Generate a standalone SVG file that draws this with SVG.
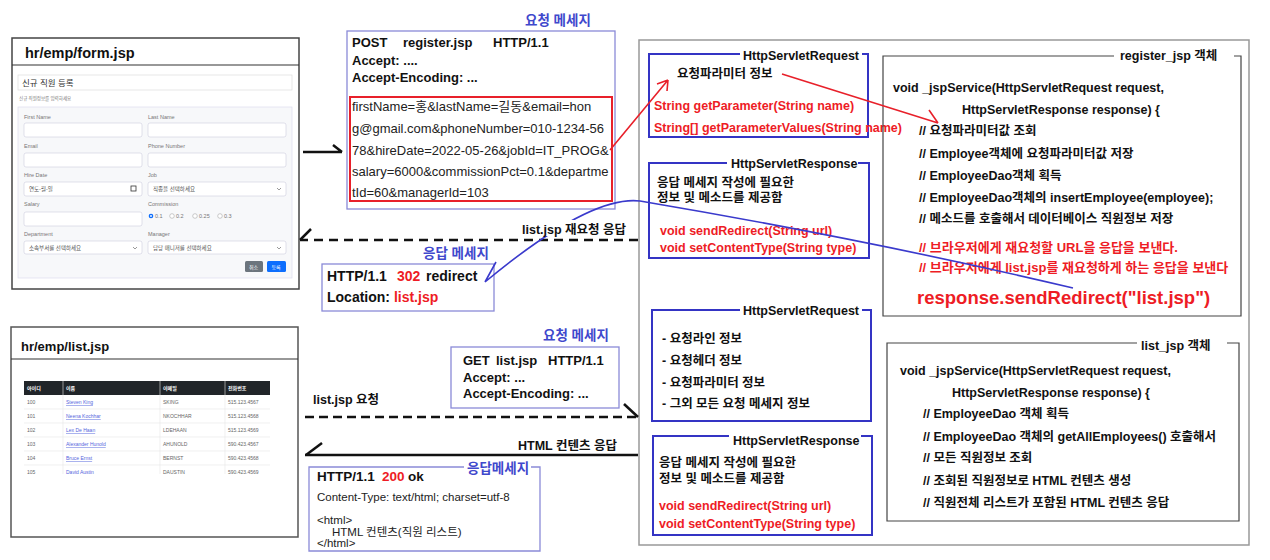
<svg xmlns="http://www.w3.org/2000/svg" width="1270" height="560" viewBox="0 0 1270 560">
<style>
text{font-family:"Liberation Sans","Noto Sans CJK KR",sans-serif;}
.b{font-weight:bold;font-size:12.5px;fill:#111;}
.r{fill:#ee1c25;}
.bt{font-weight:bold;font-size:13.5px;fill:#3f48cc;}
.reg{font-size:13px;fill:#222;}
.sm{font-size:11.5px;fill:#222;}
.msg{fill:#fff;stroke:#8a8ad8;stroke-width:1.3;}
.sbox{fill:none;stroke:#3434c4;stroke-width:2;}
.obj{fill:none;stroke:#444;stroke-width:1.2;}
.lab{font-size:5.5px;fill:#777;}
.inp{fill:#fff;stroke:#ccd;stroke-width:0.6;}
.tc{font-size:5px;fill:#666;}
.lk{font-size:5px;fill:#5566dd;text-decoration:underline;}
.blk{stroke:#111;fill:none;stroke-width:2.5;}
</style>
<rect width="1270" height="560" fill="#fff"/>

<!-- Server area -->
<g id="server">
<rect x="639" y="40" width="610" height="505" fill="none" stroke="#999" stroke-width="1.5"/>
</g>

<!-- Form screenshot -->
<g id="form-jsp">
<rect x="12" y="38" width="287" height="251" fill="#fff" stroke="#444" stroke-width="1.5"/>
<line x1="12" y1="65" x2="299" y2="65" stroke="#333" stroke-width="1.2"/>
<text x="25" y="58" style="font-weight:bold;font-size:14.5px;fill:#111">hr/emp/form.jsp</text>
<rect x="18" y="75" width="274" height="15" fill="#fff" stroke="#ddd" stroke-width="0.7"/>
<text x="22" y="86" style="font-size:8.5px;fill:#333">신규 직원 등록</text>
<text x="19" y="100" style="font-size:4.5px;fill:#777">신규 직원정보를 입력하세요</text>
<rect x="18" y="107" width="274" height="171" fill="#f7f8fa" stroke="#dde" stroke-width="0.7"/>
<text class="lab" x="24" y="119">First Name</text>
<text class="lab" x="148" y="119">Last Name</text>
<rect class="inp" x="24" y="123" width="118" height="14" rx="2"/>
<rect class="inp" x="148" y="123" width="138" height="14" rx="2"/>
<text class="lab" x="24" y="148">Email</text>
<text class="lab" x="148" y="148">Phone Number</text>
<rect class="inp" x="24" y="153" width="118" height="14" rx="2"/>
<rect class="inp" x="148" y="153" width="138" height="14" rx="2"/>
<text class="lab" x="24" y="177">Hire Date</text>
<text class="lab" x="148" y="177">Job</text>
<rect class="inp" x="24" y="182" width="118" height="14" rx="2"/>
<text class="lab" x="29" y="191" style="fill:#555">연도-월-일</text>
<rect x="131" y="186" width="5" height="5" fill="none" stroke="#333" stroke-width="0.8"/>
<rect class="inp" x="148" y="182" width="138" height="14" rx="2"/>
<text class="lab" x="153" y="191" style="fill:#555">직종을 선택하세요</text>
<path d="M277,188 l2,2 l2,-2" fill="none" stroke="#555" stroke-width="0.6"/>
<text class="lab" x="24" y="206">Salary</text>
<text class="lab" x="148" y="206">Commission</text>
<rect class="inp" x="24" y="212" width="118" height="14" rx="2"/>
<circle cx="151" cy="216" r="2.3" fill="#0d6efd"/><circle cx="151" cy="216" r="0.9" fill="#fff"/>
<text class="lab" x="155" y="218">0.1</text>
<circle cx="172" cy="216" r="2.3" fill="#fff" stroke="#999" stroke-width="0.5"/>
<text class="lab" x="176" y="218">0.2</text>
<circle cx="195" cy="216" r="2.3" fill="#fff" stroke="#999" stroke-width="0.5"/>
<text class="lab" x="199" y="218">0.25</text>
<circle cx="220" cy="216" r="2.3" fill="#fff" stroke="#999" stroke-width="0.5"/>
<text class="lab" x="224" y="218">0.3</text>
<text class="lab" x="24" y="236">Department</text>
<text class="lab" x="148" y="236">Manager</text>
<rect class="inp" x="24" y="241" width="118" height="13" rx="2"/>
<text class="lab" x="29" y="249.5" style="fill:#555">소속부서를 선택하세요</text>
<path d="M133,247 l2,2 l2,-2" fill="none" stroke="#555" stroke-width="0.6"/>
<rect class="inp" x="148" y="241" width="138" height="13" rx="2"/>
<text class="lab" x="153" y="249.5" style="fill:#555">담당 매니저를 선택하세요</text>
<path d="M277,247 l2,2 l2,-2" fill="none" stroke="#555" stroke-width="0.6"/>
<rect x="245" y="261" width="18" height="11" rx="1.5" fill="#6c757d"/>
<text x="249" y="268.5" style="font-size:5px;fill:#fff">취소</text>
<rect x="267" y="261" width="19" height="11" rx="1.5" fill="#0d6efd"/>
<text x="271.5" y="268.5" style="font-size:5px;fill:#fff">등록</text>
</g>

<!-- List screenshot -->
<g id="list-jsp">
<rect x="11" y="327" width="287" height="210" fill="#fff" stroke="#555" stroke-width="1.5"/>
<line x1="11" y1="359" x2="298" y2="359" stroke="#333" stroke-width="1.2"/>
<text x="21" y="351" style="font-weight:bold;font-size:13px;fill:#111">hr/emp/list.jsp</text>
<rect x="24" y="381" width="246" height="14" fill="#212529"/>
<g style="font-size:5px;fill:#fff;font-weight:bold">
<text x="27" y="390">아이디</text><text x="66" y="390">이름</text><text x="163" y="390">이메일</text><text x="228" y="390">전화번호</text>
</g>
<g stroke="#e6e6e6" stroke-width="0.6">
<line x1="24" y1="409" x2="270" y2="409"/><line x1="24" y1="423" x2="270" y2="423"/><line x1="24" y1="437" x2="270" y2="437"/><line x1="24" y1="451" x2="270" y2="451"/><line x1="24" y1="465" x2="270" y2="465"/>
<line x1="63" y1="381" x2="63" y2="474"/><line x1="160" y1="381" x2="160" y2="474"/><line x1="225" y1="381" x2="225" y2="474"/>
</g>
<text class="tc" x="27" y="404">100</text><text class="lk" x="66" y="404">Steven King</text><text class="tc" x="163" y="404">SKING</text><text class="tc" x="228" y="404">515.123.4567</text>
<text class="tc" x="27" y="418">101</text><text class="lk" x="66" y="418">Neena Kochhar</text><text class="tc" x="163" y="418">NKOCHHAR</text><text class="tc" x="228" y="418">515.123.4568</text>
<text class="tc" x="27" y="432">102</text><text class="lk" x="66" y="432">Lex De Haan</text><text class="tc" x="163" y="432">LDEHAAN</text><text class="tc" x="228" y="432">515.123.4569</text>
<text class="tc" x="27" y="446">103</text><text class="lk" x="66" y="446">Alexander Hunold</text><text class="tc" x="163" y="446">AHUNOLD</text><text class="tc" x="228" y="446">590.423.4567</text>
<text class="tc" x="27" y="460">104</text><text class="lk" x="66" y="460">Bruce Ernst</text><text class="tc" x="163" y="460">BERNST</text><text class="tc" x="228" y="460">590.423.4568</text>
<text class="tc" x="27" y="474">105</text><text class="lk" x="66" y="474">David Austin</text><text class="tc" x="163" y="474">DAUSTIN</text><text class="tc" x="228" y="474">590.423.4569</text>
<rect x="20" y="474.5" width="260" height="6" fill="#fff"/>
</g>

<!-- Request message (POST) -->
<g id="req-post">
<text class="bt" x="525" y="25">요청 메세지</text>
<rect class="msg" x="347" y="31" width="268" height="178"/>
<text class="b" style="font-size:13px" x="352" y="47">POST</text>
<text class="b" style="font-size:13px" x="403" y="47">register.jsp</text>
<text class="b" style="font-size:13px" x="493" y="47">HTTP/1.1</text>
<text class="b" style="font-size:13px" x="352" y="65">Accept: ....</text>
<text class="b" style="font-size:13px" x="352" y="82">Accept-Encoding: ...</text>
<rect x="350" y="97" width="262" height="104" fill="none" stroke="#e8202a" stroke-width="2"/>
<text class="reg" x="352" y="110.5">firstName=홍&amp;lastName=길동&amp;email=hon</text>
<text class="reg" x="352" y="132.5">g@gmail.com&amp;phoneNumber=010-1234-56</text>
<text class="reg" x="352" y="154.5">78&amp;hireDate=2022-05-26&amp;jobId=IT_PROG&amp;</text>
<text class="reg" x="352" y="175.5">salary=6000&amp;commissionPct=0.1&amp;departme</text>
<text class="reg" x="352" y="196.5">tId=60&amp;managerId=103</text>
</g>

<!-- Response message (302) -->
<g id="res-302">
<text class="bt" x="423" y="258">응답 메세지</text>
<rect class="msg" x="322" y="264" width="172" height="47"/>
<text class="b" style="font-size:14px" x="327" y="281">HTTP/1.1</text>
<text class="b r" style="font-size:14px" x="397" y="281">302</text>
<text class="b" style="font-size:14px" x="426" y="281">redirect</text>
<text class="b" style="font-size:14px" x="327" y="302">Location: <tspan class="r">list.jsp</tspan></text>
</g>

<!-- Request message (GET) -->
<g id="req-get">
<text class="bt" x="543" y="340">요청 메세지</text>
<rect class="msg" x="451" y="347" width="168" height="61"/>
<text class="b" style="font-size:13px" x="463" y="364.5">GET</text>
<text class="b" style="font-size:13px" x="496" y="364.5">list.jsp</text>
<text class="b" style="font-size:13px" x="548" y="364.5">HTTP/1.1</text>
<text class="b" style="font-size:13px" x="463" y="381.5">Accept: ...</text>
<text class="b" style="font-size:13px" x="463" y="397.5">Accept-Encoding: ...</text>
</g>

<!-- Response message (200) -->
<g id="res-200">
<path d="M464,467 H309 V551 H540 V467 H531" class="msg" fill="#fff"/>
<text class="bt" x="467" y="473">응답메세지</text>
<text class="b" style="font-size:13.5px" x="317" y="481">HTTP/1.1</text>
<text class="b r" style="font-size:13.5px" x="382" y="481">200</text>
<text class="b" style="font-size:13.5px" x="408" y="481">ok</text>
<text class="sm" x="317" y="501">Content-Type: text/html; charset=utf-8</text>
<text class="sm" x="317" y="524">&lt;html&gt;</text>
<text class="sm" x="332" y="536">HTML 컨텐츠(직원 리스트)</text>
<text class="sm" x="317" y="547">&lt;/html&gt;</text>
</g>

<!-- HttpServletRequest (top) -->
<g id="req-obj-1">
<path class="sbox" d="M740,54 H649 V137 H868 V54 H862"/>
<text class="b" x="743" y="59.5">HttpServletRequest</text>
<text class="b" x="677" y="78">요청파라미터 정보</text>
<text class="b r" x="654" y="109.5">String getParameter(String name)</text>
<text class="b r" x="654" y="131.5">String[] getParameterValues(String name)</text>
</g>

<!-- HttpServletResponse (top) -->
<g id="res-obj-1">
<path class="sbox" d="M727,163 H649 V258 H869 V163 H858"/>
<text class="b" x="731" y="167.5">HttpServletResponse</text>
<text class="b" x="657" y="186.5">응답 메세지 작성에 필요한</text>
<text class="b" x="657" y="201.5">정보 및 메소드를 제공함</text>
<text class="b r" x="660" y="234.5">void sendRedirect(String url)</text>
<text class="b r" x="660" y="251.5">void setContentType(String type)</text>
</g>

<!-- register_jsp object -->
<g id="register-jsp">
<path class="obj" d="M1114,56 H883 V316 H1241 V56 H1234"/>
<text class="b" x="1120" y="60">register_jsp 객체</text>
<text class="b" x="893" y="91.5">void _jspService(HttpServletRequest request,</text>
<text class="b" x="962" y="113.5">HttpServletResponse response) {</text>
<text class="b" x="919" y="134.5">// 요청파라미터값 조회</text>
<text class="b" x="919" y="157.5">// Employee객체에 요청파라미터값 저장</text>
<text class="b" x="919" y="179.5">// EmployeeDao객체 획득</text>
<text class="b" x="919" y="201.5">// EmployeeDao객체의 insertEmployee(employee);</text>
<text class="b" x="919" y="222.5">// 메소드를 호출해서 데이터베이스 직원정보 저장</text>
<text class="b r" x="919" y="251.5" style="font-size:13px">// 브라우저에게 재요청할 URL을 응답을 보낸다.</text>
<text class="b r" x="919" y="271.5" style="font-size:13px">// 브라우저에게 list.jsp를 재요청하게 하는 응답을 보낸다</text>
<text class="b r" x="917" y="304" style="font-size:18.5px">response.sendRedirect("list.jsp")</text>
</g>

<!-- HttpServletRequest (bottom) -->
<g id="req-obj-2">
<path class="sbox" d="M740,310 H652 V421 H871 V310 H862"/>
<text class="b" x="743" y="314.5">HttpServletRequest</text>
<text class="b" x="662" y="342.5">- 요청라인 정보</text>
<text class="b" x="662" y="364.5">- 요청헤더 정보</text>
<text class="b" x="662" y="386.5">- 요청파라미터 정보</text>
<text class="b" x="662" y="407.5">- 그외 모든 요청 메세지 정보</text>
</g>

<!-- HttpServletResponse (bottom) -->
<g id="res-obj-2">
<path class="sbox" d="M729,436 H653 V535 H872 V436 H861"/>
<text class="b" x="733" y="444.5">HttpServletResponse</text>
<text class="b" x="659" y="466.5">응답 메세지 작성에 필요한</text>
<text class="b" x="659" y="482.5">정보 및 메소드를 제공함</text>
<text class="b r" x="659" y="509.5">void sendRedirect(String url)</text>
<text class="b r" x="659" y="527.5">void setContentType(String type)</text>
</g>

<!-- list_jsp object -->
<g id="list-jsp-obj">
<path class="obj" d="M1137,343 H887 V521 H1239 V343 H1227"/>
<text class="b" x="1141" y="349.5">list_jsp 객체</text>
<text class="b" x="900" y="374.5">void _jspService(HttpServletRequest request,</text>
<text class="b" x="952" y="396.5">HttpServletResponse response) {</text>
<text class="b" x="923" y="417.5">// EmployeeDao 객체 획득</text>
<text class="b" x="923" y="440.5">// EmployeeDao 객체의 getAllEmployees() 호출해서</text>
<text class="b" x="923" y="461.5">// 모든 직원정보 조회</text>
<text class="b" x="923" y="484.5">// 조회된 직원정보로 HTML 컨텐츠 생성</text>
<text class="b" x="923" y="506.5">// 직원전체 리스트가 포함된 HTML 컨텐츠 응답</text>
</g>

<!-- Connectors -->
<g id="connectors" fill="none">
<path d="M303,152 H342 M342,152 L333,145" class="blk" stroke-width="2"/>
<path d="M638,240 H300" class="blk" stroke-dasharray="9,6"/>
<path d="M300,240 L311,229" class="blk"/>
<path d="M305,417 H638" class="blk" stroke-dasharray="9,5"/>
<path d="M638,417 L624,404" class="blk"/>
<path d="M305,455 H638" class="blk"/>
<path d="M306,455 L322,443" class="blk"/>
<path d="M610,150 L668,80 M668,80 L657,84 M668,80 L667,91" stroke="#e8202a" stroke-width="1.6"/>
<path d="M782,74 L938,123 M938,123 L929,110" stroke="#e8202a" stroke-width="1.6"/>
<path d="M1073,288 Q870,240 640,201 Q590,195 485,282 M485,282 L496,262" stroke="#3a3acc" stroke-width="1.6"/>
<rect x="519" y="220" width="112" height="16" fill="#fff"/>
<text class="b" x="522" y="234">list.jsp 재요청 응답</text>
<text class="b" x="313" y="404">list.jsp 요청</text>
<text class="b" x="518" y="450">HTML 컨텐츠 응답</text>
</g>
</svg>
